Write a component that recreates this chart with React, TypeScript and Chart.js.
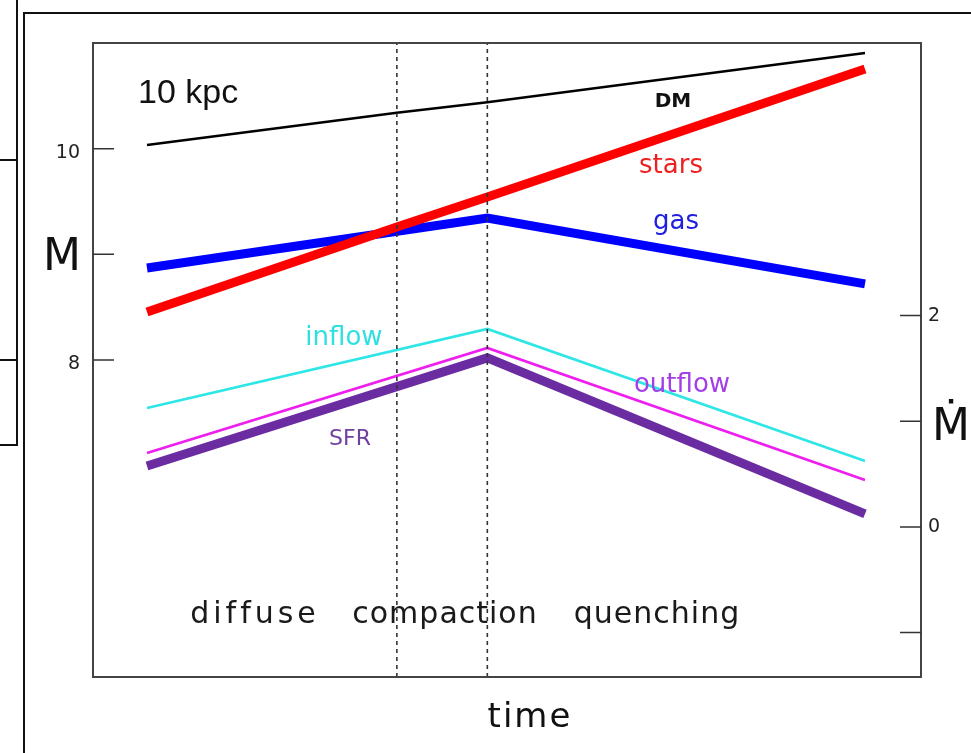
import React, { useEffect, useRef } from "react";
import { Chart, registerables } from "chart.js";

Chart.register(...registerables);

// time axis (arbitrary units): start, compaction onset, quenching onset, end
const phaseTimes = [0, 3.48, 4.74, 10];
const massTimes = [0, 3.48, 4.74, 10];
// log masses (left axis, M)
const dmMass = [10.035, 10.34, 10.44, 10.905];
const starMass = [8.454, 9.259, 9.543, 10.754];
const gasMass = [8.871, 9.22, 9.344, 8.72];
// rates (right axis, Mdot)
const rateTimes = [0, 4.74, 10];
const inflowRate = [1.126, 1.874, 0.625];
const outflowRate = [0.7, 1.694, 0.445];
const sfrRate = [0.577, 1.6, 0.123];

const massTicks = [10, 9, 8];
const massTickLabels = ["10", "", "8"];
const rateTicks = [2, 1, 0, -1];
const rateTickLabels = ["2", "", "0", ""];
const phaseNames = ["diffuse", "compaction", "quenching"];
const dashTimes = [phaseTimes[1], phaseTimes[2]];

const FONT = "'DejaVu Sans', sans-serif";

function pts(xs: number[], ys: number[]) {
  return xs.map((x, i) => ({ x, y: ys[i] }));
}

export default function App() {
  const ref = useRef<HTMLCanvasElement | null>(null);

  useEffect(() => {
    const canvas = ref.current;
    if (!canvas) return;

    const deco = {
      id: "deco",
      beforeDatasetsDraw(chart: any) {
        const { ctx } = chart;
        const ca = chart.chartArea;
        ctx.save();
        ctx.fillStyle = "#1a1a1a";
        ctx.textBaseline = "alphabetic";
        ctx.textAlign = "center";
        ctx.font = `30px ${FONT}`;
        const cx = [255, 445, 657];
        const ls = ["4px", "1px", "1px"];
        phaseNames.forEach((t, i) => {
          (ctx as any).letterSpacing = ls[i];
          ctx.fillText(t, cx[i], 623);
        });
        (ctx as any).letterSpacing = "0px";
        ctx.restore();
      },
      afterDatasetsDraw(chart: any) {
        const { ctx } = chart;
        const ca = chart.chartArea;
        const yl = chart.scales.yM;
        const yr = chart.scales.yR;
        ctx.save();

        // outer figure frame lines
        ctx.strokeStyle = "#111";
        ctx.lineWidth = 2;
        ctx.beginPath();
        ctx.moveTo(24, 753);
        ctx.lineTo(24, 13);
        ctx.lineTo(971, 13);
        ctx.stroke();
        ctx.beginPath();
        ctx.moveTo(17, 0);
        ctx.lineTo(17, 445);
        ctx.lineTo(0, 445);
        ctx.moveTo(0, 160);
        ctx.lineTo(17, 160);
        ctx.moveTo(0, 360);
        ctx.lineTo(17, 360);
        ctx.stroke();

        // plot box
        ctx.strokeStyle = "#444";
        ctx.lineWidth = 2;
        ctx.strokeRect(ca.left, ca.top, ca.right - ca.left, ca.bottom - ca.top);

        // inward ticks
        ctx.lineWidth = 1.5;
        ctx.strokeStyle = "#333";
        ctx.beginPath();
        massTicks.forEach((v) => {
          const y = yl.getPixelForValue(v);
          ctx.moveTo(ca.left, y);
          ctx.lineTo(ca.left + 21, y);
        });
        rateTicks.forEach((v) => {
          const y = yr.getPixelForValue(v);
          ctx.moveTo(ca.right, y);
          ctx.lineTo(ca.right - 21, y);
        });
        ctx.stroke();

        // tick labels
        ctx.fillStyle = "#222";
        ctx.font = `19px ${FONT}`;
        ctx.textBaseline = "middle";
        ctx.textAlign = "right";
        massTicks.forEach((v, i) => {
          ctx.fillText(massTickLabels[i], ca.left - 13, yl.getPixelForValue(v) + 4);
        });
        ctx.textAlign = "left";
        rateTicks.forEach((v, i) => {
          ctx.fillText(rateTickLabels[i], ca.right + 7, yr.getPixelForValue(v));
        });

        // axis titles
        ctx.textBaseline = "alphabetic";
        ctx.textAlign = "center";
        ctx.fillStyle = "#111";
        ctx.font = `44px ${FONT}`;
        ctx.fillText("M", 62, 270);
        ctx.fillText("Ṁ", 951, 440);
        ctx.font = `34px ${FONT}`;
        (ctx as any).letterSpacing = "2px";
        ctx.fillText("time", 530, 727);
        (ctx as any).letterSpacing = "0px";

        // annotations
        ctx.textAlign = "left";
        ctx.font = `34px 'Liberation Sans', sans-serif`;
        ctx.fillText("10 kpc", 138, 103);

        ctx.textAlign = "center";
        ctx.font = `bold 20px ${FONT}`;
        ctx.fillStyle = "#111";
        ctx.fillText("DM", 673, 107);
        ctx.font = `26px ${FONT}`;
        ctx.fillStyle = "#f02020";
        ctx.fillText("stars", 671, 173);
        ctx.fillStyle = "#2020e0";
        ctx.fillText("gas", 676, 229);
        ctx.fillStyle = "#30e0e0";
        ctx.fillText("inflow", 344, 345);
        ctx.fillStyle = "#a43ee6";
        ctx.fillText("outflow", 682, 392);
        ctx.font = `22px ${FONT}`;
        ctx.fillStyle = "#7040a0";
        ctx.fillText("SFR", 350, 445);
        ctx.restore();
      },
    };

    const dashDatasets = dashTimes.map((t) => ({
      label: "phase",
      data: [
        { x: t, y: 5 },
        { x: t, y: 11 },
      ],
      yAxisID: "yM",
      borderColor: "#333",
      borderWidth: 1.6,
      borderDash: [4, 4],
      pointRadius: 0,
    }));

    const chart = new Chart(canvas, {
      type: "line",
      data: {
        datasets: [
          ...dashDatasets,
          { label: "DM", data: pts(massTimes, dmMass), yAxisID: "yM", borderColor: "#000", borderWidth: 2.5, pointRadius: 0 },
          { label: "inflow", data: pts(rateTimes, inflowRate), yAxisID: "yR", borderColor: "#2ee6e6", borderWidth: 2.6, pointRadius: 0 },
          { label: "outflow", data: pts(rateTimes, outflowRate), yAxisID: "yR", borderColor: "#ee1eee", borderWidth: 2.6, pointRadius: 0 },
          { label: "SFR", data: pts(rateTimes, sfrRate), yAxisID: "yR", borderColor: "#6a2ca0", borderWidth: 9, pointRadius: 0 },
          { label: "stars", data: pts(massTimes, starMass), yAxisID: "yM", borderColor: "#ff0000", borderWidth: 9, pointRadius: 0 },
          { label: "gas", data: pts([0, 4.74, 10], [gasMass[0], gasMass[2], gasMass[3]]), yAxisID: "yM", borderColor: "#0000ff", borderWidth: 9, pointRadius: 0 },
        ] as any,
      },
      options: {
        animation: false,
        responsive: false,
        maintainAspectRatio: false,
        layout: { padding: { left: 93, top: 43, right: 50, bottom: 76 } },
        plugins: { legend: { display: false }, tooltip: { enabled: false } },
        elements: { line: { tension: 0 } },
        scales: {
          x: { type: "linear", min: -0.752, max: 10.78, display: false },
          yM: { type: "linear", position: "left", min: 5, max: 11, display: false },
          yR: { type: "linear", position: "right", min: -1.42, max: 4.58, display: false },
        },
      },
      plugins: [deco as any],
    });

    return () => chart.destroy();
  }, []);

  return (
    <div style={{ position: "absolute", left: 0, top: 0, width: 971, height: 753, background: "#fff" }}>
      <canvas ref={ref} width={971} height={753} style={{ display: "block" }} />
    </div>
  );
}
